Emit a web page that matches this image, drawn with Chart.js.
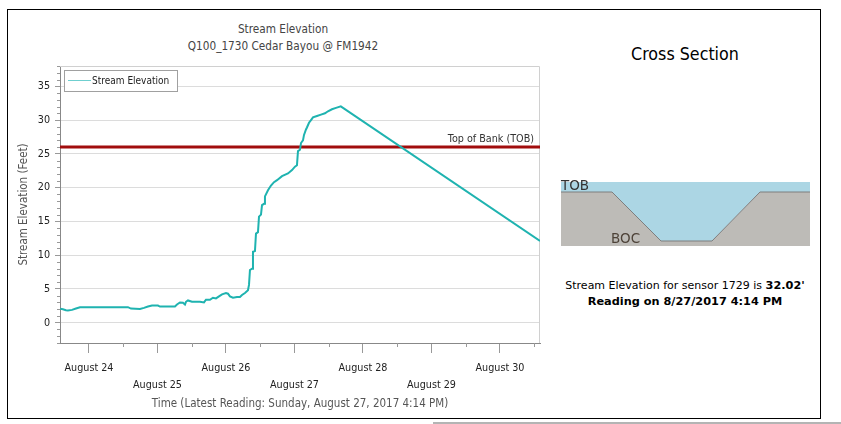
<!DOCTYPE html>
<html>
<head>
<meta charset="utf-8">
<script src="https://cdn.jsdelivr.net/npm/chart.js@4/dist/chart.umd.min.js"></script>
<style>
  body { margin: 0; background: #fff; font-family: "DejaVu Sans Condensed", "DejaVu Sans", sans-serif; }
  #page { position: relative; width: 841px; height: 424px; overflow: hidden; }
  #frame { position: absolute; left: 7px; top: 9px; width: 812px; height: 408px; border: 1px solid #000; }
  #shadow { position: absolute; left: 433px; top: 422px; width: 408px; height: 2px; background: #b4b4b4; }
  #titles { position: absolute; left: 8px; top: 21px; width: 550px; text-align: center; color: #444; font-size: 11.7px; line-height: 17px; }
  #mainCanvas { position: absolute; left: 0; top: 0; }
  #xsTitle { position: absolute; left: 560px; top: 44px; width: 250px; text-align: center; font-size: 17.7px; color: #000; }
  #xsCanvas { position: absolute; left: 561px; top: 182px; }
  .xsLabel { position: absolute; font-family: "DejaVu Sans", sans-serif; font-size: 13.5px; line-height: 14px; }
  #info { position: absolute; left: 560px; top: 278px; width: 250px; text-align: center; font-family: "DejaVu Sans", sans-serif; font-size: 11px; line-height: 16px; color: #000; }
  #info b { font-size: 11.3px; }
</style>
</head>
<body>
<div id="page">
  <div id="frame"></div>
  <div id="shadow"></div>
  <div id="titles">Stream Elevation<br>Q100_1730 Cedar Bayou @ FM1942</div>
  <canvas id="mainCanvas" width="560" height="424" style="width:560px;height:424px"></canvas>
  <div id="xsTitle">Cross Section</div>
  <canvas id="xsCanvas" width="249" height="64" style="width:249px;height:64px"></canvas>
  <div class="xsLabel" style="left:561px;top:178px;color:#333">TOB</div>
  <div class="xsLabel" style="left:611px;top:231px;color:#4d4238">BOC</div>
  <div id="info">Stream Elevation for sensor 1729 is <b>32.02'</b><br><b>Reading on 8/27/2017 4:14 PM</b></div>
</div>

<script>
// readings: days since August 24 2017 00:00, elevation in feet
const readingDays = [
  -0.419, -0.380, -0.336, -0.307, -0.248, -0.190, -0.131, 0.569, 0.613, 0.745,
  0.803, 0.861, 0.920, 1.007, 1.036, 1.255, 1.285, 1.328, 1.372, 1.401,
  1.416, 1.445, 1.504, 1.620, 1.679, 1.708, 1.766, 1.810, 1.854, 1.898,
  1.942, 2.000, 2.029, 2.058, 2.102, 2.161, 2.204, 2.234, 2.277, 2.321,
  2.336, 2.350, 2.380, 2.394, 2.423, 2.438, 2.467, 2.482, 2.511, 2.526,
  2.555, 2.569, 2.613, 2.657, 2.701, 2.745, 2.818, 2.905, 2.964, 3.007,
  3.036, 3.051, 3.080, 3.095, 3.124, 3.139, 3.168, 3.182, 3.212, 3.241,
  3.270, 3.328, 3.387, 3.445, 3.489, 3.547, 3.606, 3.676, 6.584
];
const elevationFt = [
  2.07, 2.0, 1.85, 1.8, 1.9, 2.1, 2.3, 2.3, 2.1, 2.05,
  2.2, 2.4, 2.55, 2.55, 2.4, 2.4, 2.7, 3.0, 2.95, 2.7,
  3.1, 3.3, 3.1, 3.1, 3.0, 3.4, 3.4, 3.7, 3.6, 3.9,
  4.2, 4.4, 4.3, 3.9, 3.7, 3.8, 3.8, 4.1, 4.4, 4.8,
  5.6, 7.8, 8.0, 10.5, 10.6, 13.2, 13.4, 15.7, 16.0, 17.4,
  17.6, 18.7, 19.6, 20.3, 20.8, 21.1, 21.7, 22.1, 22.6, 23.1,
  23.3, 25.4, 25.6, 26.6, 27.0, 27.8, 28.6, 28.9, 29.6, 30.0,
  30.4, 30.6, 30.8, 31.0, 31.3, 31.6, 31.8, 32.02, 12.1
];
const topOfBankFt = 26;
const dayLabels = ['August 24', 'August 25', 'August 26', 'August 27', 'August 28', 'August 29', 'August 30'];
const dayTicks = [0, 1, 2, 3, 4, 5, 6];
const elevTicks = [0, 5, 10, 15, 20, 25, 30, 35];
const xMin = -0.423, xMax = 6.584;
const yMin = -3, yMax = 38;

// cross section profile (diagram units)
const sectionX = [0, 51, 100, 151, 199, 249];
const groundY = [54, 54, 5, 5, 54, 54];
const waterLevel = 64;

const lineColor = '#1fb3b0';
const fontName = '"DejaVu Sans Condensed", "DejaVu Sans", sans-serif';

// рамка, мелкие деления, легенда и подпись TOB
const extras = {
  id: 'extras',
  beforeDatasetsDraw(chart) {
    const { ctx, chartArea: a } = chart;
    ctx.save();
    ctx.strokeStyle = '#d0d0d0';
    ctx.lineWidth = 1;
    ctx.beginPath();
    ctx.moveTo(a.left, a.top + 0.5);
    ctx.lineTo(a.right - 0.5, a.top + 0.5);
    ctx.lineTo(a.right - 0.5, a.bottom);
    ctx.stroke();
    ctx.restore();
  },
  afterDraw(chart) {
    const { ctx, chartArea: a, scales } = chart;
    ctx.save();
    // minor ticks
    ctx.strokeStyle = '#999';
    ctx.lineWidth = 1;
    ctx.beginPath();
    for (let v = Math.ceil(yMin); v <= yMax; v++) {
      if (v % 5 === 0) continue;
      const py = Math.round(scales.y.getPixelForValue(v)) + 0.5;
      ctx.moveTo(a.left - 3, py);
      ctx.lineTo(a.left, py);
    }
    for (let v = -0.5; v <= xMax; v += 1) {
      if (v < xMin) continue;
      const px = Math.round(scales.x.getPixelForValue(v)) + 0.5;
      ctx.moveTo(px, a.bottom);
      ctx.lineTo(px, a.bottom + 4);
    }
    ctx.stroke();

    // TOB label
    const yTob = scales.y.getPixelForValue(topOfBankFt);
    ctx.fillStyle = '#333';
    ctx.font = '10.7px ' + fontName;
    ctx.textAlign = 'right';
    ctx.textBaseline = 'alphabetic';
    ctx.fillText('Top of Bank (TOB)', a.right - 6, yTob - 5);

    // legend inside plot
    const ds = chart.data.datasets[0];
    const lx = a.left + 4, ly = a.top + 4;
    ctx.fillStyle = '#fff';
    ctx.fillRect(lx, ly, 114, 22);
    ctx.strokeStyle = '#a0a0a0';
    ctx.strokeRect(lx + 0.5, ly + 0.5, 113, 21);
    ctx.strokeStyle = '#6fcfcf';
    ctx.beginPath();
    ctx.moveTo(lx + 4, ly + 10.5);
    ctx.lineTo(lx + 27, ly + 10.5);
    ctx.stroke();
    ctx.fillStyle = '#222';
    ctx.font = '10px ' + fontName;
    ctx.textAlign = 'left';
    ctx.textBaseline = 'middle';
    ctx.fillText(ds.label, lx + 28, ly + 11);
    ctx.restore();
  }
};

function initMainChart() {
  const ctx = document.getElementById('mainCanvas').getContext('2d');
  new Chart(ctx, {
    type: 'line',
    data: {
      datasets: [{
        label: 'Stream Elevation',
        data: readingDays.map((d, i) => ({ x: d, y: elevationFt[i] })),
        borderColor: lineColor,
        borderWidth: 2,
        pointRadius: 0,
        tension: 0,
        fill: false
      }, {
        label: 'Top of Bank (TOB)',
        data: [{ x: xMin, y: topOfBankFt }, { x: xMax, y: topOfBankFt }],
        borderColor: '#a10d0d',
        borderWidth: 3,
        pointRadius: 0,
        fill: false
      }]
    },
    options: {
      responsive: false,
      animation: false,
      layout: { padding: { left: 8, top: 66, right: 20, bottom: 7 } },
      plugins: {
        legend: { display: false },
        title: { display: false },
        tooltip: { enabled: false }
      },
      scales: {
        x: {
          type: 'linear',
          min: xMin,
          max: xMax,
          afterBuildTicks: s => { s.ticks = dayTicks.map(v => ({ value: v })); },
          afterFit: s => { s.height = 74; },
          grid: { drawOnChartArea: false, tickLength: 10, tickColor: '#999' },
          border: { color: '#888' },
          ticks: {
            autoSkip: false,
            maxRotation: 0,
            padding: 7,
            color: '#222',
            font: { family: fontName, size: 10.7, lineHeight: 1.55 },
            callback: (v, i) => (dayTicks[i] % 2 === 0 ? dayLabels[i] : ['', dayLabels[i]])
          },
          title: {
            display: true,
            text: 'Time (Latest Reading: Sunday, August 27, 2017 4:14 PM)',
            color: '#555',
            font: { family: fontName, size: 11.5 },
            padding: { top: 2, bottom: 6 }
          }
        },
        y: {
          min: yMin,
          max: yMax,
          afterBuildTicks: s => { s.ticks = elevTicks.map(v => ({ value: v })); },
          afterFit: s => { s.width = 52; },
          grid: { color: '#dcdcdc', tickLength: 5, tickColor: '#999' },
          border: { color: '#888' },
          ticks: {
            padding: 5,
            color: '#222',
            font: { family: fontName, size: 10.7 }
          },
          title: {
            display: true,
            text: 'Stream Elevation (Feet)',
            color: '#555',
            font: { family: fontName, size: 11.5 },
            padding: { top: 9, bottom: 0 }
          }
        }
      }
    },
    plugins: [extras]
  });
}

function initSectionChart() {
  const ctx = document.getElementById('xsCanvas').getContext('2d');
  new Chart(ctx, {
    type: 'line',
    data: {
      datasets: [{
        label: 'Ground',
        data: sectionX.map((x, i) => ({ x: x, y: groundY[i] })),
        borderColor: '#7e7e7e',
        borderWidth: 1,
        backgroundColor: '#bdbbb7',
        pointRadius: 0,
        fill: 'start'
      }, {
        label: 'Water',
        data: [{ x: sectionX[0], y: waterLevel }, { x: sectionX[sectionX.length - 1], y: waterLevel }],
        borderWidth: 0,
        borderColor: 'rgba(0,0,0,0)',
        backgroundColor: '#acd6e4',
        pointRadius: 0,
        fill: 0
      }]
    },
    options: {
      responsive: false,
      animation: false,
      layout: { padding: 0 },
      plugins: { legend: { display: false }, tooltip: { enabled: false } },
      scales: {
        x: { type: 'linear', display: false, min: 0, max: 249 },
        y: { display: false, min: 0, max: waterLevel }
      }
    }
  });
}

document.addEventListener('DOMContentLoaded', () => {
  initMainChart();
  initSectionChart();
});
</script>
</body>
</html>
